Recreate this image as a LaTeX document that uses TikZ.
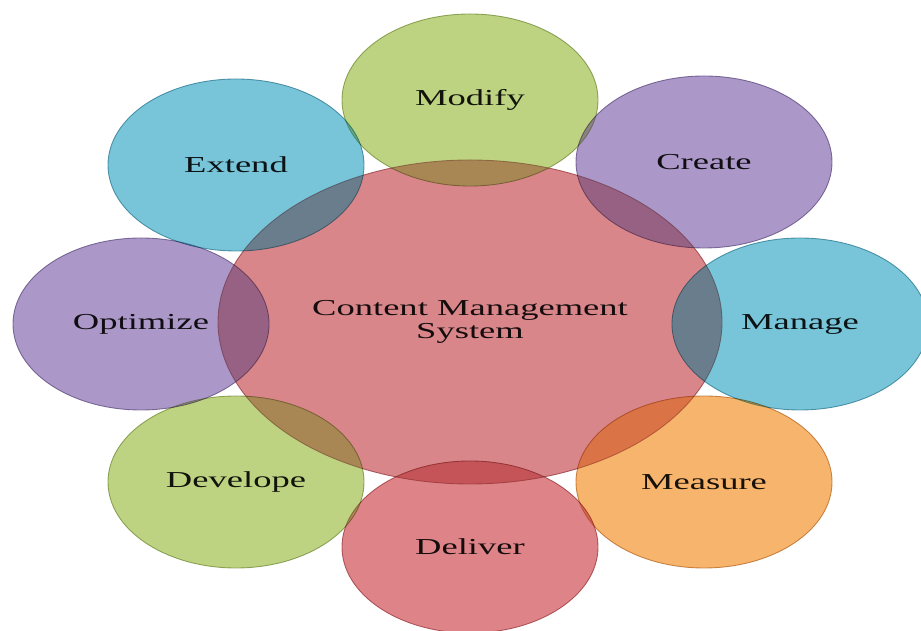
\documentclass[tikz,border=0pt]{standalone}
\usepackage{fontspec}
\setmainfont{Liberation Serif}
\usetikzlibrary{shapes.geometric}
\definecolor{cmsred}{RGB}{217,134,138}
\definecolor{petalgreen}{RGB}{190,211,130}
\definecolor{petalpurple}{RGB}{171,152,200}
\definecolor{petalblue}{RGB}{120,196,216}
\definecolor{petalorange}{RGB}{246,180,108}
\definecolor{petalred}{RGB}{222,132,136}
\newcommand{\wtext}[1]{\scalebox{1.6}[1]{#1}}
\tikzset{petal/.style={ellipse, draw=#1!80!black, fill=#1, line width=0.5pt,
		blend mode=multiply,
		postaction={fill=#1, fill opacity=0.25, blend mode=normal},
		inner sep=0pt, minimum width=5.12cm, minimum height=3.44cm,
		font=\fontsize{13}{15}\selectfont, text=black!90}}

\begin{document}
\begin{tikzpicture}
	\useasboundingbox (0,0) rectangle (18.42,12.62);

	% centre
	\node[petal=cmsred, minimum width=10.08cm, minimum height=6.48cm, align=center] (cms) at (9.4,6.18)
		{\wtext{Content Management}\\[-2pt]\wtext{System}};

	% ring
	\node[petal=petalgreen] (modify) at (9.4,10.62) {\wtext{Modify}};
	\node[petal=petalpurple] (create) at (14.08,9.38) {\wtext{Create}};
	\node[petal=petalblue] (manage) at (16.0,6.14) {\wtext{Manage}};
	\node[petal=petalorange] (measure) at (14.08,2.98) {\wtext{Measure}};
	\node[petal=petalred] (deliver) at (9.4,1.68) {\wtext{Deliver}};
	\node[petal=petalgreen] (develope) at (4.72,2.98) {\wtext{Develope}};
	\node[petal=petalpurple] (optimize) at (2.82,6.14) {\wtext{Optimize}};
	\node[petal=petalblue] (extend) at (4.72,9.32) {\wtext{Extend}};

\end{tikzpicture}
\end{document}
